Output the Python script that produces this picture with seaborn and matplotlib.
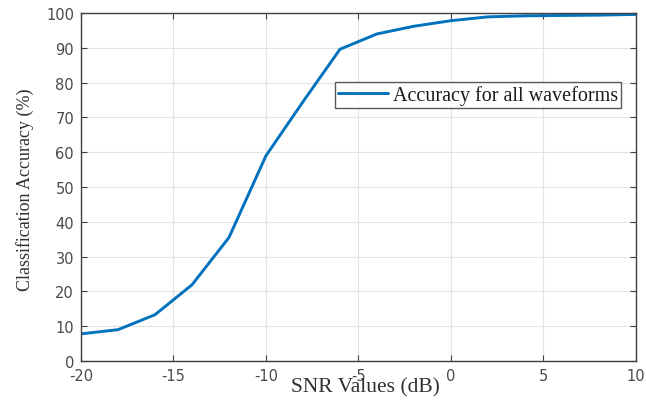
import pandas as pd
import matplotlib.pyplot as plt
import seaborn as sns

# ── Data ─────────────────────────────────────────────────────────────────────
snr_db = [-20, -18, -16, -14, -12, -10, -8, -6, -4, -2, 0, 2, 4, 6, 8, 10]
accuracy = [7.8, 9.0, 13.3, 21.9, 35.5, 59.0, 74.5, 89.6, 94.0, 96.2, 97.8,
            98.9, 99.2, 99.3, 99.4, 99.6]
series_label = "Accuracy for all waveforms"

df = pd.DataFrame({"SNR": snr_db, "Accuracy": accuracy, "Series": series_label})

# ── Style ────────────────────────────────────────────────────────────────────
sns.set_theme(style="ticks")
plt.rcParams['font.family'] = ['Liberation Serif', 'DejaVu Serif']
plt.rcParams['axes.unicode_minus'] = False

fig = plt.figure(figsize=(6.46, 4.02), dpi=100)
ax = fig.add_axes([0.1254, 0.0995, 0.859, 0.8656])

sns.lineplot(data=df, x="SNR", y="Accuracy", hue="Series",
             palette=["#0072BD"], linewidth=2.1, ax=ax)

ax.set_xlim(-20, 10)
ax.set_ylim(0, 100)
ax.set_xticks(range(-20, 11, 5))
ax.set_yticks(range(0, 101, 10))
ax.grid(True, color="#e3e3e3", linewidth=0.8)
ax.set_axisbelow(True)

for s in ax.spines.values():
    s.set_visible(True)
    s.set_color("#404040")
    s.set_linewidth(1.0)
ax.tick_params(direction="in", top=True, right=True, length=4, width=0.8,
               color="#404040", labelsize=10.5, labelcolor="#4a4a4a", pad=5)
for lab in ax.get_xticklabels() + ax.get_yticklabels():
    lab.set_family("DejaVu Sans")

ax.set_xlabel("SNR Values (dB)", fontsize=15.5, color="#303030")
ax.xaxis.set_label_coords(0.512, -0.047)
ax.set_ylabel("Classification Accuracy (%)", fontsize=13, color="#303030")
ax.yaxis.set_label_coords(-0.085, 0.494)

leg = ax.legend(loc="upper right", bbox_to_anchor=(0.974, 0.802),
                borderaxespad=0, fontsize=14.5, frameon=True, fancybox=False,
                handlelength=2.5, borderpad=0.15, handletextpad=0.25)
leg.get_frame().set_edgecolor("#303030")
leg.get_frame().set_linewidth(1.0)
for t in leg.get_texts():
    t.set_color("#1a1a1a")

fig.savefig("out.png", dpi=100)
